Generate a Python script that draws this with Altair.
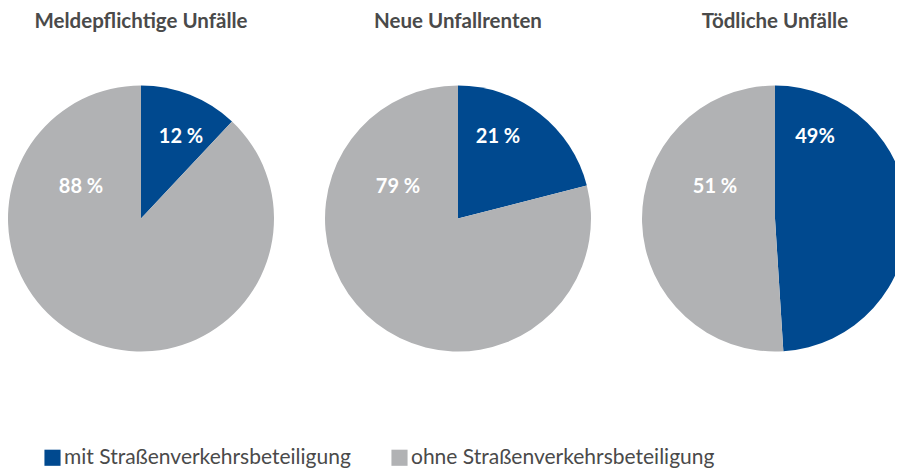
import altair as alt
import pandas as pd

charts = ["Meldepflichtige Unfälle", "Neue Unfallrenten", "Tödliche Unfälle"]
categories = ["mit Straßenverkehrsbeteiligung", "ohne Straßenverkehrsbeteiligung"]
mit_values = [12, 21, 49]
ohne_values = [88, 79, 51]
mit_labels = ["12 %", "21 %", "49%"]
ohne_labels = ["88 %", "79 %", "51 %"]

colors = ["#00498f", "#b1b2b4"]
FONT = "Lato"

rows = []
for i, c in enumerate(charts):
    rows.append({"chart": c, "category": categories[0], "value": mit_values[i], "label": mit_labels[i], "ord": 0})
    rows.append({"chart": c, "category": categories[1], "value": ohne_values[i], "label": ohne_labels[i], "ord": 1})
df = pd.DataFrame(rows)
titles = pd.DataFrame({"chart": charts})

xenc = alt.X("chart:N", scale=alt.Scale(type="point", domain=charts, range=[133, 767], padding=0), axis=None)
yc = alt.value(210.5)

base = alt.Chart(df).transform_window(
    cum="sum(value)", groupby=["chart"], sort=[alt.SortField("ord")]
).transform_calculate(start="datum.cum - datum.value")

pies = base.mark_arc(radius=133, clip=True).encode(
    x=xenc,
    y=yc,
    theta=alt.Theta("start:Q", scale=alt.Scale(domain=[0, 100])),
    theta2="cum:Q",
    color=alt.Color(
        "category:N",
        scale=alt.Scale(domain=categories, range=colors),
        legend=alt.Legend(
            title=None,
            orient="none",
            legendX=34,
            legendY=439,
            direction="horizontal",
            symbolType="square",
            symbolSize=260,
            symbolStrokeWidth=0,
            labelFontSize=21,
            labelFont=FONT,
            labelColor="#4a4a4a",
            labelLimit=400,
            columnPadding=38,
            labelOffset=1,
        ),
    ),
)

lab_mit = alt.Chart(df).transform_filter("datum.ord == 0").mark_text(
    dx=40, dy=-82, align="center", baseline="middle", font=FONT, fontWeight="bold", fontSize=20, color="white"
).encode(x=xenc, y=yc, text="label:N")

lab_ohne = alt.Chart(df).transform_filter("datum.ord == 1").mark_text(
    dx=-60, dy=-32, align="center", baseline="middle", font=FONT, fontWeight="bold", fontSize=20, color="white"
).encode(x=xenc, y=yc, text="label:N")

title_layer = alt.Chart(titles).mark_text(
    align="center", baseline="middle", font=FONT, fontWeight="bold", fontSize=20.5, color="#4a4a4a"
).encode(x=xenc, y=alt.value(14), text="chart:N")

chart = alt.layer(pies, lab_mit, lab_ohne, title_layer).properties(
    width=887, height=460, autosize=alt.AutoSizeParams(type="none"), padding=0
).configure_view(stroke=None)

chart.save("out.html", embed_options={"renderer": "svg", "actions": False})
